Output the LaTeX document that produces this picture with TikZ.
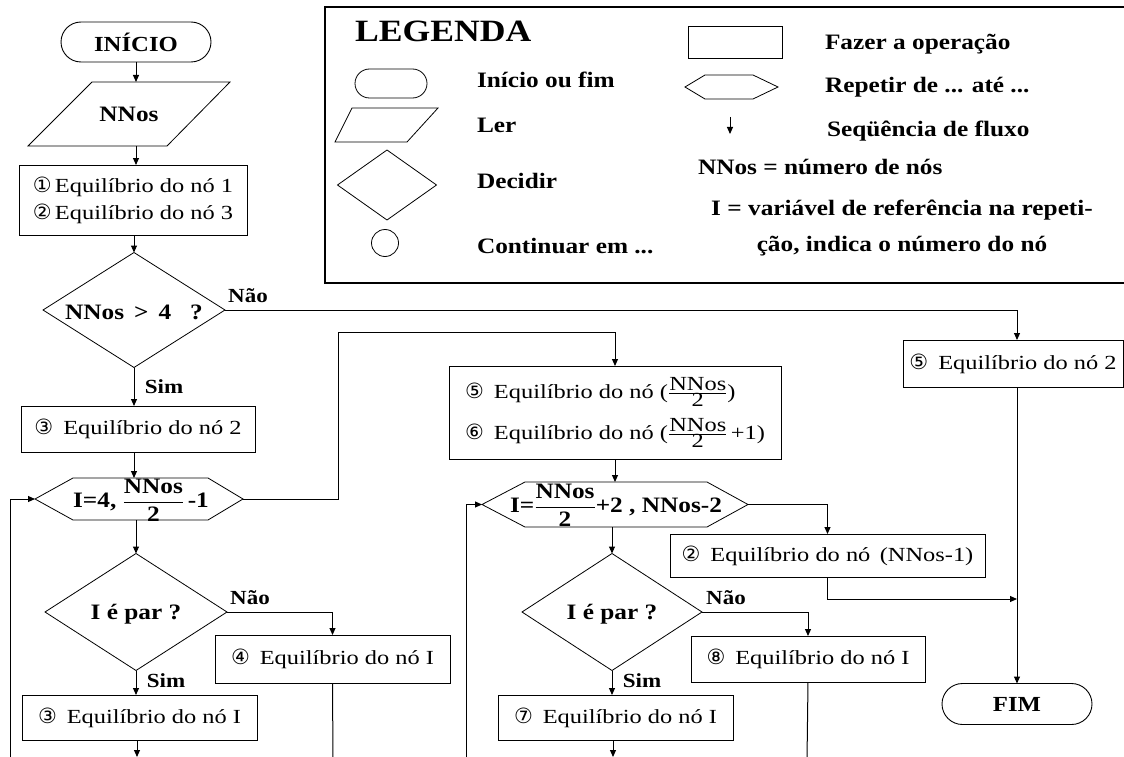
\documentclass[tikz,border=0pt]{standalone}
\usepackage{fontspec}
\setmainfont{Liberation Serif}[FakeStretch=1.15]
\newfontfamily\rg{Liberation Serif}[FakeStretch=1.22]
\newfontfamily\dv{DejaVu Sans}
\usetikzlibrary{arrows.meta,shapes.geometric,shapes.misc,calc}
\newcommand{\cn}[1]{{\dv\fontsize{21}{21}\selectfont #1}}
\newcommand{\fr}[1]{$\displaystyle\frac{\mbox{#1}}{\mbox{2}}$}
\newcommand{\tfr}[1]{$\frac{\mbox{#1}}{\mbox{2}}$}
\tikzset{
  every node/.style={inner sep=0pt, outer sep=0pt},
  flow/.style={line width=1pt},
  arr/.style={line width=1pt, -{Triangle[length=7pt,width=6pt]}},
  thinline/.style={line width=0.8pt},
  opbox/.style={draw, line width=1pt, rectangle, align=left, font=\rg\fontsize{20}{27}\selectfont},
  term/.style={draw, line width=0.9pt, rounded rectangle, font=\bfseries\fontsize{21.5}{24}\selectfont},
  decbox/.style={rectangle},
  flowtxt/.style={font=\bfseries\fontsize{22}{24}\selectfont},
  yesno/.style={anchor=base, font=\bfseries\fontsize{20}{24}\selectfont},
  leg/.style={anchor=base west, font=\bfseries\fontsize{22}{26}\selectfont},
}
\begin{document}
\begin{tikzpicture}[x=1pt,y=-1pt]
\clip (0,0) rectangle (1124,757);
\fill[white] (0,0) rectangle (1124,757);

% ---------------- legend ----------------
\draw[line width=1.5pt] (325,7) rectangle (1140,283);
\node[anchor=base west, font=\bfseries\fontsize{31}{31}\selectfont] (legtitle) at (355,42) {LEGENDA};
\node[draw, thinline, rounded rectangle, minimum width=72, minimum height=29] (lterm) at (391,83.5) {};
\draw[thinline] (352,108) -- (438,108) -- (407,142) -- (335,142) -- cycle;
\node[decbox, minimum width=99, minimum height=70] (ldec) at (387,185) {};
\draw[thinline] (ldec.north) -- (ldec.east) -- (ldec.south) -- (ldec.west) -- cycle;
\node[draw, thinline, circle, minimum size=27] (lcirc) at (385,243) {};
\node[draw, line width=1pt, minimum width=94, minimum height=32] (lbox) at (735,43) {};
\draw[thinline] (685,87) -- (705,75) -- (753,75) -- (778,87) -- (753,99) -- (705,99) -- cycle;
\coordinate (la1) at (730,117);
\coordinate (la2) at (730,134);
\draw[arr] (la1) -- (la2);
\node[leg] (t1) at (477,88) {Início ou fim};
\node[leg] (t2) at (477,132) {Ler};
\node[leg] (t3) at (477,188) {Decidir};
\node[leg] (t4) at (477,253) {Continuar em ...};
\node[leg] (t5) at (825,50) {Fazer a operação};
\node[leg] (t6) at (825,93) {Repetir de ... até ...};
\node[leg] (t7) at (827,137) {Seqüência de fluxo};
\node[leg] (t8) at (698,175) {NNos = número de nós};
\node[anchor=north, align=center, font=\bfseries\fontsize{22}{36}\selectfont] (t9) at (902,200) {I = variável de referência na repeti-\\ção, indica o número do nó};

% ---------------- main column ----------------
\node[term, minimum width=150, minimum height=40] (ini) at (136,42) {INÍCIO};
\node[flowtxt, minimum width=138, minimum height=64] (p) at (129,114) {NNos};
\draw[thinline] (92,82) -- (230,82) -- (167,146) -- (28,146) -- cycle;
\node[opbox, minimum width=228, minimum height=70] (b1) at (133,200)
  {\cn{①}\,Equilíbrio do nó 1\\\cn{②}\,Equilíbrio do nó 3};
\node[decbox, minimum width=182, minimum height=115] (d1) at (134,310) {};
\draw[thinline] (d1.north) -- (d1.east) -- (d1.south) -- (d1.west) -- cycle;
\node[flowtxt] (d1t) at (134,312) {NNos \,>\, 4 \ \ ?};
\node[opbox, align=center, minimum width=234, minimum height=46] (b3) at (138,429) {\cn{③}\enspace Equilíbrio do nó 2};
\node[minimum width=208, minimum height=42] (h1) at (139,499) {};
\draw[thinline] (h1.west) -- ($(h1.north west)+(38,0)$) -- ($(h1.north east)+(-35,0)$) -- (h1.east)
  -- ($(h1.south east)+(-35,0)$) -- ($(h1.south west)+(38,0)$) -- cycle;
\node[flowtxt] (h1t) at (141,500) {I=4, \fr{NNos}\,-1};
\node[decbox, minimum width=182, minimum height=117] (d2) at (136,612) {};
\draw[thinline] (d2.north) -- (d2.east) -- (d2.south) -- (d2.west) -- cycle;
\node[flowtxt] (d2t) at (136,614) {I é par ?};
\node[opbox, align=center, minimum width=235, minimum height=48] (b6) at (332.5,659) {\cn{④}\enspace Equilíbrio do nó I};
\node[opbox, align=center, minimum width=235, minimum height=45] (b7) at (139.5,717.5) {\cn{③}\enspace Equilíbrio do nó I};

% ---------------- middle column ----------------
\node[opbox, minimum width=332, minimum height=93, font=\rg\fontsize{20}{41}\selectfont] (b4) at (615,412.5)
  {\cn{⑤}\enspace Equilíbrio do nó (\tfr{NNos})\\\cn{⑥}\enspace Equilíbrio do nó (\tfr{NNos}\,+1)};
\node[minimum width=266, minimum height=45] (h2) at (615,504.5) {};
\draw[thinline] (h2.west) -- ($(h2.north west)+(43,0)$) -- ($(h2.north east)+(-41,0)$) -- (h2.east)
  -- ($(h2.south east)+(-41,0)$) -- ($(h2.south west)+(43,0)$) -- cycle;
\node[flowtxt] (h2t) at (616,505) {I=\fr{NNos}+2 , NNos-2};
\node[opbox, align=center, minimum width=315, minimum height=43] (b5) at (827.5,555.5) {\cn{②}\enspace Equilíbrio do nó\, (NNos-1)};
\node[decbox, minimum width=180, minimum height=117] (d3) at (612,612) {};
\draw[thinline] (d3.north) -- (d3.east) -- (d3.south) -- (d3.west) -- cycle;
\node[flowtxt] (d3t) at (612,614) {I é par ?};
\node[opbox, align=center, minimum width=234, minimum height=46] (b8) at (808,659) {\cn{⑧}\enspace Equilíbrio do nó I};
\node[opbox, align=center, minimum width=235, minimum height=45] (b9) at (615.5,717.5) {\cn{⑦}\enspace Equilíbrio do nó I};

% ---------------- right column ----------------
\node[opbox, align=center, minimum width=220, minimum height=47] (b2) at (1013,363.5) {\cn{⑤}\enspace Equilíbrio do nó 2};
\node[term, minimum width=150, minimum height=41] (fim) at (1017,704) {FIM};

% ---------------- labels ----------------
\node[yesno] (n1) at (248,302) {Não};
\node[yesno] (s1) at (164,393) {Sim};
\node[yesno] (n2) at (250,604) {Não};
\node[yesno] (s2) at (166,687) {Sim};
\node[yesno] (n3) at (726,604) {Não};
\node[yesno] (s3) at (642,687) {Sim};

% ---------------- connectors ----------------
\coordinate (c1) at (1017,340);
\coordinate (c2) at (1017,387);
\coordinate (up1) at (338,332);
\coordinate (j) at (1017,599);
\coordinate (bl1) at (10,760);
\coordinate (bl2) at (466,760);
\coordinate (e1) at (137,757);
\coordinate (e2) at (333,760);
\coordinate (e3) at (613,757);
\coordinate (e4) at (807,760);

\draw[arr] (ini.south) -- (ini.south |- p.north);
\draw[arr] (ini.south |- p.south) -- (ini.south |- b1.north);
\draw[arr] (d1.north |- b1.south) -- (d1.north);
\draw[arr] (d1.east) -| (c1);
\draw[arr] (d1.south) -- (d1.south |- b3.north);
\draw[arr] (d1.south |- b3.south) -- (d1.south |- h1.north);
\draw[arr] (h1.east) -| (up1) -| (b4.north);
\draw[arr] (b4.south) -- (h2.north);
\draw[arr] (h2.east) -| (b5.north);
\draw[arr] (b5.south) |- (j);
\draw[arr] (c2) -- (fim.north);
\draw[arr] (bl1) |- (h1.west);
\draw[arr] (bl2) |- (h2.west);
\draw[arr] (d2.north |- h1.south) -- (d2.north);
\draw[arr] (d2.east) -| (b6.north);
\draw[arr] (d2.south) -- (d2.south |- b7.north);
\draw[arr] (b7.south -| e1) -- (e1);
\draw[flow] (b6.south) -- (e2);
\draw[arr] (d3.north |- h2.south) -- (d3.north);
\draw[arr] (d3.east) -| (b8.north);
\draw[arr] (d3.south) -- (d3.south |- b9.north);
\draw[arr] (b9.south -| e3) -- (e3);
\draw[flow] (b8.south) -- (e4);
\end{tikzpicture}
\end{document}
